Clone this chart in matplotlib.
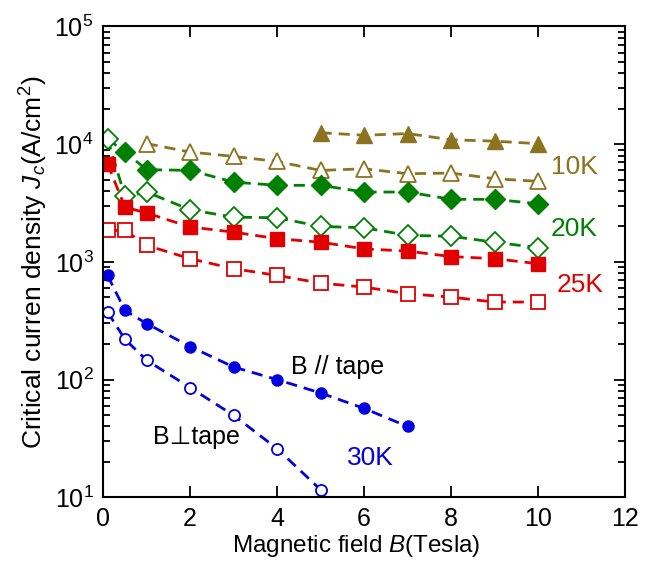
import matplotlib
matplotlib.use("Agg")
import matplotlib.pyplot as plt
from matplotlib.ticker import LogLocator, NullFormatter, FixedLocator

plt.rcParams['font.family'] = ['Liberation Sans', 'DejaVu Sans']
plt.rcParams['mathtext.fontset'] = 'custom'
plt.rcParams['mathtext.rm'] = 'Liberation Sans'
plt.rcParams['mathtext.it'] = 'Liberation Sans:italic'

# ---- data ----
b10_par = [5, 6, 7, 8, 9, 10]
jc10_par = [12500, 11900, 12300, 10900, 10600, 10100]
b10_perp = [1, 2, 3, 4, 5, 6, 7, 8, 9, 10]
jc10_perp = [10100, 8570, 7870, 7130, 5980, 6180, 5610, 5680, 5090, 4830]

b20_par = [0.1, 0.5, 1, 2, 3, 4, 5, 6, 7, 8, 9, 10]
jc20_par = [11100, 8570, 6070, 5990, 4760, 4470, 4470, 3920, 3920, 3400, 3400, 3120]
b20_perp = [0.1, 0.5, 1, 2, 3, 4, 5, 6, 7, 8, 9, 10]
jc20_perp = [11100, 3600, 3920, 2770, 2400, 2370, 2000, 1950, 1680, 1650, 1470, 1320]

b25_par = [0.1, 0.5, 1, 2, 3, 4, 5, 6, 7, 8, 9, 10]
jc25_par = [6820, 2920, 2600, 1980, 1790, 1575, 1470, 1290, 1235, 1110, 1065, 965]
b25_perp = [0.1, 0.5, 1, 2, 3, 4, 5, 6, 7, 8, 9, 10]
jc25_perp = [1850, 1850, 1380, 1065, 875, 768, 660, 611, 537, 502, 456, 456]

b30_par = [0.1, 0.5, 1, 2, 3, 4, 5, 6, 7]
jc30_par = [767, 387, 299, 191, 128, 100, 77, 57, 40]
b30_perp = [0.1, 0.5, 1, 2, 3, 4, 5]
jc30_perp = [375, 220, 146, 85.5, 49.7, 25.9, 11.6]

gold = '#8C7320'
green = '#008000'
red = '#E00000'
blue = '#0000E0'

fig = plt.figure(figsize=(6.45, 5.62), dpi=100)
ax = fig.add_axes([0.160, 0.115, 0.809, 0.838])

dash = (0, (4, 2.5))
lw = 2.0

ax.plot(b10_perp, jc10_perp, linestyle=dash, lw=lw, color=gold, marker='^',
        ms=11.5, mfc='white', mec=gold, mew=1.3)
ax.plot(b10_par, jc10_par, linestyle=dash, lw=lw, color=gold, marker='^',
        ms=11.5, mfc=gold, mec=gold)

ax.plot(b20_par, jc20_par, linestyle=dash, lw=lw, color=green, marker='D',
        ms=10, mfc=green, mec=green, markevery=slice(1, None))
ax.plot(b20_perp, jc20_perp, linestyle=dash, lw=lw, color=green, marker='D',
        ms=10, mfc='white', mec=green, mew=1.3)

ax.plot(b25_perp, jc25_perp, linestyle=dash, lw=lw, color=red, marker='s',
        ms=10, mfc='white', mec=red, mew=1.3)
ax.plot(b25_par, jc25_par, linestyle=dash, lw=lw, color=red, marker='s',
        ms=10, mfc=red, mec=red)

ax.plot(b30_perp, jc30_perp, linestyle=dash, lw=lw, color=blue, marker='o',
        ms=8, mfc='white', mec=blue, mew=1.3)
ax.plot(b30_par, jc30_par, linestyle=dash, lw=lw, color=blue, marker='o',
        ms=8, mfc=blue, mec=blue)

ax.set_yscale('log')
ax.set_xlim(0, 12)
ax.set_ylim(10, 1e5)
ax.xaxis.set_major_locator(FixedLocator([0, 2, 4, 6, 8, 10, 12]))
ax.yaxis.set_major_locator(LogLocator(base=10, numticks=10))
ax.yaxis.set_minor_locator(LogLocator(base=10, subs=range(2, 10), numticks=20))
ax.yaxis.set_minor_formatter(NullFormatter())

ax.tick_params(which='both', direction='in', top=True, right=True, width=1.3)
ax.tick_params(which='major', length=8, labelsize=18, pad=7)
ax.tick_params(which='minor', length=5)
for s in ax.spines.values():
    s.set_linewidth(1.5)

ax.set_xlabel(r'Magnetic field $\mathit{B}$(Tesla)', fontsize=17.5, labelpad=0)
ax.xaxis.set_label_coords(0.485, -0.075)
ax.set_ylabel(r'Critical curren density $J_c$(A/cm$^2$)', fontsize=19, labelpad=3)

ax.text(10.3, 6350, '10K', color=gold, fontsize=19, ha='left', va='center')
ax.text(10.3, 1920, '20K', color=green, fontsize=19, ha='left', va='center')
ax.text(10.43, 631, '25K', color=red, fontsize=19, ha='left', va='center')
ax.text(4.32, 128, 'B // tape', color='black', fontsize=18, ha='left', va='center')
ax.text(1.15, 32.5, 'B\u22a5tape', color='black', fontsize=18, ha='left', va='center')
ax.text(5.6, 21.4, '30K', color=blue, fontsize=19, ha='left', va='center')

fig.savefig('out.png', dpi=100)
